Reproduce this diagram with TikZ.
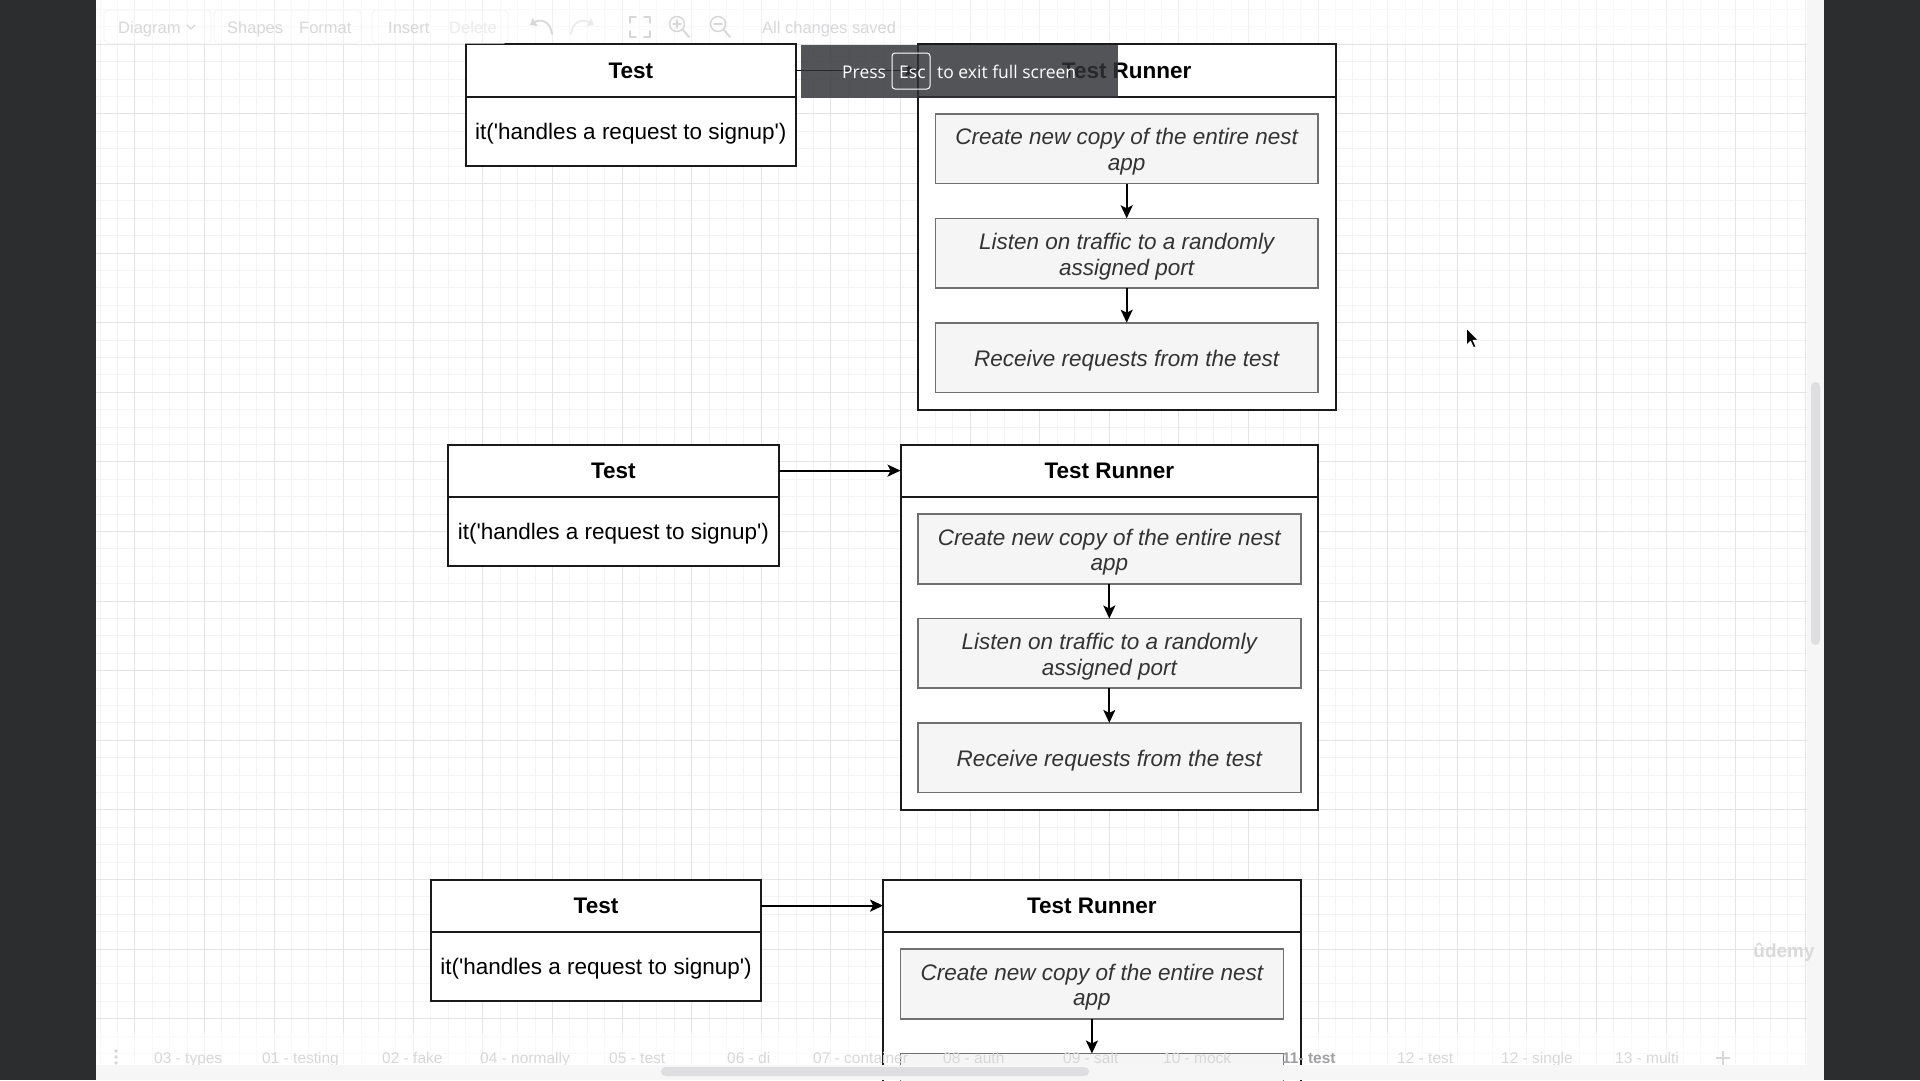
\documentclass[tikz,border=0pt]{standalone}
\usepackage{fontspec}
\setmainfont{Liberation Sans}
\newfontfamily\osans{Open Sans}
\usetikzlibrary{arrows.meta}
\definecolor{darkbar}{RGB}{44,45,47}
\definecolor{gridminor}{RGB}{243,243,244}
\definecolor{gridmajor}{RGB}{228,228,230}
\definecolor{boxline}{RGB}{26,26,26}
\definecolor{innerline}{RGB}{112,112,112}
\definecolor{innerfill}{RGB}{245,245,245}
\definecolor{innertext}{RGB}{51,51,51}
\definecolor{uifaint}{RGB}{215,215,217}
\definecolor{uifainter}{RGB}{235,235,237}
\definecolor{uiline}{RGB}{246,246,247}
\definecolor{overlaycol}{RGB}{48,50,54}
\definecolor{stripcol}{RGB}{246,246,247}
\definecolor{thumbcol}{RGB}{222,222,225}
\definecolor{activetab}{RGB}{160,160,163}
\newcommand\steplift{\rule{0pt}{23pt}}
\newcommand\bodylift{\rule{0pt}{21pt}}
\begin{document}
\begin{tikzpicture}[x=1pt,y=-1pt,
  testhead/.style={draw=boxline, line width=2pt, fill=white, minimum width=330.6pt, minimum height=52.2pt, inner sep=0pt, outer sep=0pt, anchor=north west, font=\fontsize{22.5}{26}\selectfont\bfseries},
  testbody/.style={draw=boxline, line width=2pt, fill=white, minimum width=330.6pt, minimum height=69.6pt, inner sep=0pt, outer sep=0pt, anchor=north west, font=\fontsize{22.5}{26}\selectfont},
  runhead/.style={draw=boxline, line width=2pt, fill=white, minimum width=417.6pt, minimum height=52.2pt, inner sep=0pt, outer sep=0pt, anchor=north west, font=\fontsize{22.5}{26}\selectfont\bfseries},
  runbody/.style={draw=boxline, line width=2pt, fill=white, minimum width=417.6pt, minimum height=313.2pt, inner sep=0pt, outer sep=0pt, anchor=north west},
  stepbox/.style={draw=innerline, line width=1.6pt, fill=innerfill, minimum width=382.8pt, minimum height=69.6pt, inner sep=0pt, outer sep=0pt, anchor=north west, align=center, text=innertext, font=\fontsize{22.5}{25.8}\selectfont\itshape},
  conn/.style={draw=black, line width=1.8pt, -{Stealth[length=13pt,width=12pt,inset=3pt]}},
  tbtext/.style={anchor=base west, inner sep=0pt, text=uifaint, font=\fontsize{16.5}{18}\selectfont},
  tabtext/.style={anchor=base west, inner sep=0pt, text=uifaint, font=\fontsize{15.5}{17}\selectfont},
  ovtext/.style={anchor=base west, inner sep=0pt, text=white, font=\osans\fontsize{17.5}{20}\selectfont},
  uiicon/.style={draw=uifaint, line width=1.8pt, line cap=round, line join=round}
]
\useasboundingbox (0,0) rectangle (1920,1080);
% backgrounds
\fill[white] (96,0) rectangle (1807,1080);
\fill[darkbar] (0,0) rectangle (96,1080);
\fill[darkbar] (1824,0) rectangle (1920,1080);
\fill[stripcol] (1807,0) rectangle (1824,1080);
% grid
\begin{scope}
\clip (96,0) rectangle (1807,1064);
\foreach \k in {2,...,100} \draw[gridminor, line width=1pt] ({65.3+\k*17.4},0) -- ({65.3+\k*17.4},1064);
\foreach \k in {-2,...,58} \draw[gridminor, line width=1pt] (96,{44.3+\k*17.4}) -- (1807,{44.3+\k*17.4});
\foreach \m in {1,...,25} \draw[gridmajor, line width=1.1pt] ({65.3+\m*69.6},0) -- ({65.3+\m*69.6},1064);
\foreach \m in {0,...,14} \draw[gridmajor, line width=1.1pt] (96,{44.3+\m*69.6}) -- (1807,{44.3+\m*69.6});
\end{scope}
% faded toolbar and tab bands
\fill[white, opacity=0.45] (96,0) rectangle (1807,43);
\fill[white, opacity=0.55] (96,1033) rectangle (1807,1064);
% diagram
\begin{scope}[shift={(65.3pt,-44.3pt)}, x=1.74pt, y=-1.74pt]
 % set 1
 \node[testhead] (t1h) at (230,0) {Test};
 \node[testbody] (t1b) at (230,30) {\bodylift it(\textquotesingle handles a request to signup\textquotesingle)};
 \node[runhead] (r1h) at (490,0) {Test Runner};
 \node[runbody] (r1b) at (490,30) {};
 \node[stepbox] (a1) at (500,40) {\steplift Create new copy of the entire nest\\app};
 \node[stepbox] (b1) at (500,100) {\steplift Listen on traffic to a randomly\\assigned port};
 \node[stepbox] (c1) at (500,160) {\steplift Receive requests from the test};
 \draw[conn] (t1h.east) -- (r1h.west);
 \draw[conn] (a1.south) -- (b1.north);
 \draw[conn] (b1.south) -- (c1.north);
 % set 2
 \node[testhead] (t2h) at (220,230) {Test};
 \node[testbody] (t2b) at (220,260) {\bodylift it(\textquotesingle handles a request to signup\textquotesingle)};
 \node[runhead] (r2h) at (480,230) {Test Runner};
 \node[runbody] (r2b) at (480,260) {};
 \node[stepbox] (a2) at (490,270) {\steplift Create new copy of the entire nest\\app};
 \node[stepbox] (b2) at (490,330) {\steplift Listen on traffic to a randomly\\assigned port};
 \node[stepbox] (c2) at (490,390) {\steplift Receive requests from the test};
 \draw[conn] (t2h.east) -- (r2h.west);
 \draw[conn] (a2.south) -- (b2.north);
 \draw[conn] (b2.south) -- (c2.north);
 % set 3
 \node[testhead] (t3h) at (210,480) {Test};
 \node[testbody] (t3b) at (210,510) {\bodylift it(\textquotesingle handles a request to signup\textquotesingle)};
 \node[runhead] (r3h) at (470,480) {Test Runner};
 \node[runbody] (r3b) at (470,510) {};
 \node[stepbox] (a3) at (480,520) {\steplift Create new copy of the entire nest\\app};
 \node[stepbox] (b3) at (480,580) {};
 \draw[conn] (t3h.east) -- (r3h.west);
 \draw[conn] (a3.south) -- (b3.north);
\end{scope}
% toolbar (faded)
\draw[uiline, line width=1pt, rounded corners=4pt] (104,10) rectangle (211,43);
\draw[uiline, line width=1pt, rounded corners=4pt] (214,10) rectangle (361,43);
\draw[uiline, line width=1pt, rounded corners=4pt] (372,10) rectangle (508,43);
\node[tbtext] (tdiag) at (118,33) {Diagram};
\draw[draw=uifaint, line width=1.3pt, line cap=round] (187,25) -- (191,29) -- (195,25);
\node[tbtext] (tshapes) at (227,33) {Shapes};
\node[tbtext] (tformat) at (299,33) {Format};
\node[tbtext] (tinsert) at (388,33) {Insert};
\node[tbtext, text=uifainter] (tdelete) at (449,33) {Delete};
% undo / redo
\draw[uiicon, -{Triangle[length=6pt,width=9pt]}] (552,34) .. controls (550,20) and (540,19) .. (530,25);
\draw[uiicon, draw=uifainter, -{Triangle[length=6pt,width=9pt]}] (571,34) .. controls (573,20) and (583,19) .. (594,25);
% fullscreen
\draw[uiicon, line width=1.5pt] (630,23) -- (630,17) -- (636,17);
\draw[uiicon, line width=1.5pt] (644,17) -- (650,17) -- (650,23);
\draw[uiicon, line width=1.5pt] (650,31) -- (650,37) -- (644,37);
\draw[uiicon, line width=1.5pt] (636,37) -- (630,37) -- (630,31);
% zoom in / out
\draw[uiicon, line width=1.5pt] (677,24) circle (7.5);
\draw[uiicon, line width=1.8pt] (682.5,29.5) -- (689,37);
\draw[uiicon, line width=1.3pt] (673,24) -- (681,24) (677,20) -- (677,28);
\draw[uiicon, line width=1.5pt] (718,24) circle (7.5);
\draw[uiicon, line width=1.8pt] (723.5,29.5) -- (730,37);
\draw[uiicon, line width=1.3pt] (714,24) -- (722,24);
\node[tbtext] (tsaved) at (762,33) {All changes saved};
% tab bar texts
\fill[uifaint] (116,1051) circle (1.9) (116,1057) circle (1.9) (116,1063) circle (1.9);
\node[tabtext] (tab1) at (154,1063.5) {03 - types};
\node[tabtext] (tab2) at (262,1063.5) {01 - testing};
\node[tabtext] (tab3) at (382,1063.5) {02 - fake};
\node[tabtext] (tab4) at (480,1063.5) {04 - normally};
\node[tabtext] (tab5) at (609,1063.5) {05 - test};
\node[tabtext] (tab6) at (727,1063.5) {06 - di};
\node[tabtext] (tab7) at (813,1063.5) {07 - container};
\node[tabtext] (tab8) at (943,1063.5) {08 - auth};
\node[tabtext] (tab9) at (1063,1063.5) {09 - salt};
\node[tabtext] (tab10) at (1163,1063.5) {10 - mock};
\node[tabtext, text=activetab, font=\fontsize{15.5}{17}\selectfont\bfseries] (tab11) at (1282,1063.5) {11- test};
\node[tabtext] (tab12) at (1397,1063.5) {12 - test};
\node[tabtext] (tab13) at (1501,1063.5) {12 - single};
\node[tabtext] (tab14) at (1615,1063.5) {13 - multi};
\draw[draw=uifaint, line width=2.6pt] (1716,1058) -- (1730,1058) (1723,1051) -- (1723,1065);
% bottom strip and scrollbars
\fill[stripcol] (96,1064.5) rectangle (1807,1080);
\fill[thumbcol, rounded corners=4.5pt] (661,1067) rectangle (1089,1076);
\fill[thumbcol, rounded corners=4.5pt] (1811,382) rectangle (1820,645);
% full-screen notice overlay
\fill[overlaycol, opacity=0.83] (801,45) rectangle (1118,97.5);
\node[ovtext] (press) at (842,78.3) {Press};
\draw[white, line width=1pt, rounded corners=3pt] (892,53) rectangle (930,89);
\node[ovtext] (esc) at (899,78.3) {Esc};
\node[ovtext] (exitmsg) at (937,78.3) {to exit full screen};
% watermark
\node[text=gray!30, font=\fontsize{19}{21}\selectfont\bfseries, inner sep=0pt] (udemy) at (1784,952) {ûdemy};
% mouse cursor
\fill[black, draw=white, line width=0.9pt, line join=round] (1466.5,328.3) -- ++(0,17) -- ++(4,-4) -- ++(3,6.5) -- ++(2.6,-1.2) -- ++(-3,-6.3) -- ++(5.6,0) -- cycle;
\end{tikzpicture}
\end{document}
